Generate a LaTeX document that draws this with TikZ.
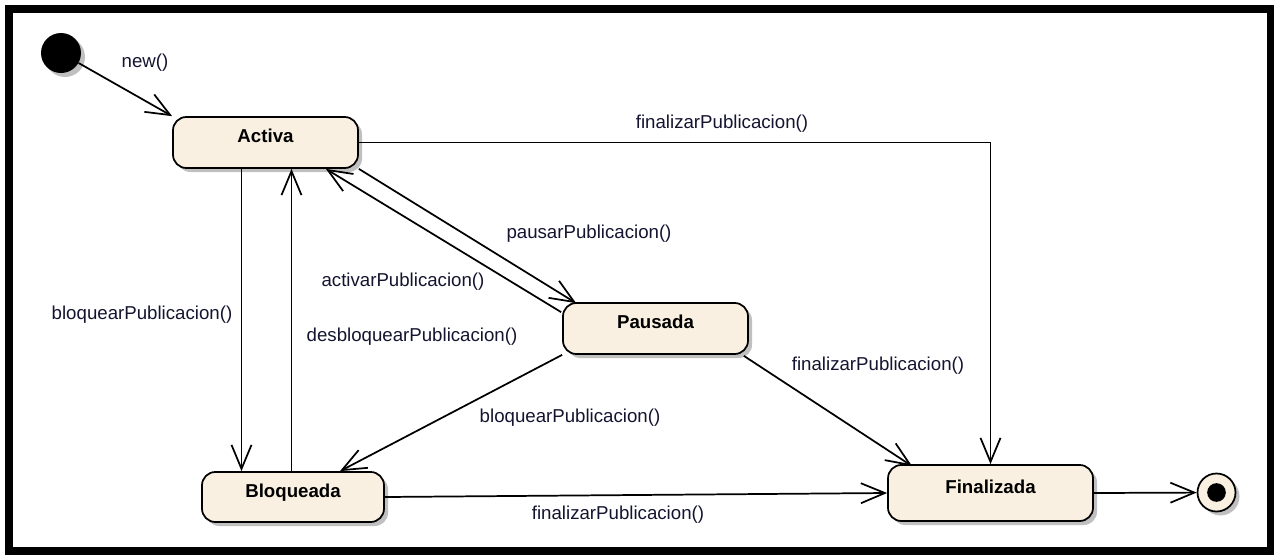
\documentclass[tikz,border=0pt]{standalone}
\usepackage{fontspec}
\setmainfont{Liberation Sans}
\usetikzlibrary{arrows.meta,calc,shadows}
\definecolor{stbeige}{HTML}{FAF0E1}
\definecolor{lbltext}{HTML}{141430}

\begin{document}
\begin{tikzpicture}[
      x=0.75pt, y=-0.75pt,
      stshadow/.style={
        drop shadow={shadow xshift=3pt, shadow yshift=-3pt,
          opacity=0.55, fill=black!45}
      },
      state/.style={
        draw=black,
        line width=1.3pt,
        fill=stbeige,
        rounded corners=10pt,
        minimum width=138.75pt,
        minimum height=38.25pt,
        text height=9pt,
        text depth=9pt,
        font=\fontsize{14}{16}\selectfont\bfseries,
        stshadow
      },
      startst/.style={
        circle, fill=black, inner sep=0pt,
        minimum size=30pt, stshadow
      },
      endst/.style={
        circle, draw=black, line width=1.3pt, fill=stbeige,
        inner sep=0pt, minimum size=28.5pt, stshadow
      },
      enddot/.style={
        circle, fill=black, inner sep=0pt, minimum size=14pt
      },
      lbl/.style={
        font=\fontsize{14}{16}\selectfont,
        text=lbltext,
        inner sep=0pt,
        text height=10pt,
        text depth=3pt
      },
      arr/.style={
        -{Straight Barb[length=18pt,width=15pt]},
        line width=1.3pt,
        black
      },
      frame/.style={
        draw=black,
        line width=6pt
      }
    ]

    \useasboundingbox (0,0) rectangle (1274,554);
    \draw[frame] (9,9) rectangle (1270.5,551);

    % states
    \node[startst] (ini) at (61,53) {};

    \node[state] (act) at (265.5,142.5) {Activa};

    \node[state] (pau) at (655.5,328.5) {Pausada};

    \node[state,minimum width=136.5pt,minimum height=37.5pt] (blq)
      at (293,497) {Bloqueada};

    \node[state,minimum width=153.75pt,minimum height=42pt] (fin)
      at (990.5,493) {Finalizada};

    \node[endst] (fend) at (1216.5,492.5) {};
    \node[enddot] (fdot) at (fend.center) {};

    % transitions
    \draw[arr] (ini)--(act.north west);
    \draw[arr] (act.east) -| (fin.north);

    \coordinate (ab) at ($(act.south)+(-24,0)$);
    \coordinate (ba) at ($(act.south)+(26,0)$);
    \draw[arr] (ab)--(ab |- blq.north);
    \draw[arr] (ba |- blq.north)--(ba);

    \draw[arr] (act.south east)--($(pau.north west)+(14,1)$);
    \draw[arr] ($(pau.north west)+(-1,10)$)--($(act.south east)+(-33,0)$);

    \draw[arr] (pau.south west)--($(blq.north)+(47,0)$);
    \draw[arr] ($(pau.south east)+(-5,1)$)--($(fin.north west)+(25,2)$);

    \draw[arr] (blq.east)--(fin.west);
    \draw[arr] (fin.east)--(fend);

    % labels
    \node[lbl] (lnew) at (145,63) {new()};
    \node[lbl] (lfin1) at (722,124) {finalizarPublicacion()};
    \node[lbl] (lpau) at (589,234) {pausarPublicacion()};
    \node[lbl] (lact) at (403,282) {activarPublicacion()};
    \node[lbl] (lblq1) at (142,315) {bloquearPublicacion()};
    \node[lbl] (ldes) at (412,337) {desbloquearPublicacion()};
    \node[lbl] (lblq2) at (570,418) {bloquearPublicacion()};
    \node[lbl] (lfin2) at (878,366) {finalizarPublicacion()};
    \node[lbl] (lfin3) at (618,515) {finalizarPublicacion()};

  \end{tikzpicture}
\end{document}
